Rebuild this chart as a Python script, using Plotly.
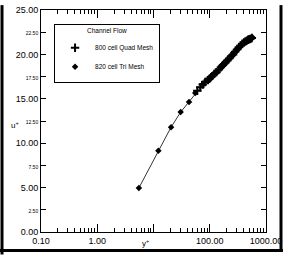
import plotly.graph_objects as go

# Data
quad_yplus = [60, 68, 75, 83, 92, 100, 110, 120, 132, 145, 158, 172, 188, 205, 222,
              240, 260, 282, 305, 330, 355, 380, 405, 430, 455, 480, 505, 530, 560]
quad_uplus = [15.9, 16.3, 16.6, 16.9, 17.1, 17.3, 17.55, 17.8, 18.0, 18.3, 18.55, 18.8,
              19.05, 19.3, 19.55, 19.8, 20.0, 20.3, 20.55, 20.8, 21.0, 21.2, 21.35, 21.45,
              21.55, 21.65, 21.7, 21.75, 21.85]
tri_yplus = [5.5, 12.2, 20.5, 30.4, 42.8, 55.3, 77, 94, 105, 133, 163, 205, 262, 345, 454, 580]
tri_uplus = [4.96, 9.14, 11.8, 13.5, 14.65, 15.64, 16.66, 17.0, 17.48, 18.0, 18.65, 19.24,
             19.97, 20.85, 21.44, 21.9]

x_tickvals = [0.1, 1, 10, 100, 1000]
x_ticktext = ["0.10", "1.00", "", "100.00", "1000.00"]
y_tickvals = [0, 2.5, 5, 7.5, 10, 12.5, 15, 17.5, 20, 22.5, 25]
y_ticktext = ["0.00", "2.50", "5.00", "7.50", "10.00", "12.50", "15.00", "17.50",
              "20.00", "22.50", "25.00"]

FONT = "Liberation Sans, Arial, sans-serif"

def ylabel(v, t):
    return t if v % 5 == 0 else '<span style="font-size:5px">%s</span>' % t

fig = go.Figure()
# connecting line (no legend entry)
fig.add_trace(go.Scatter(
    x=tri_yplus, y=tri_uplus, mode="lines", showlegend=False, hoverinfo="skip",
    line=dict(color="black", width=0.8),
))
fig.add_trace(go.Scatter(
    x=quad_yplus, y=quad_uplus, mode="markers", name="800 cell Quad Mesh",
    marker=dict(symbol="cross-thin", size=6, color="black",
                line=dict(color="black", width=2)),
))
fig.add_trace(go.Scatter(
    x=tri_yplus, y=tri_uplus, mode="markers", name="820 cell Tri Mesh",
    marker=dict(symbol="diamond", size=5, color="black"),
))

minor_x = [m * 10 ** e for e in range(-1, 3) for m in range(2, 10)]

fig.update_layout(
    width=287, height=255,
    margin=dict(l=41, r=21, t=5, b=23),
    paper_bgcolor="white", plot_bgcolor="white",
    font=dict(family=FONT, color="black", size=9),
    showlegend=True,
    legend=dict(
        x=0.058, y=0.938, xanchor="left", yanchor="top",
        bgcolor="white", bordercolor="black", borderwidth=1,
        font=dict(size=6.5, family=FONT),
        title=dict(text="Channel Flow", side="top center", font=dict(size=6.5)),
        itemwidth=30,
    ),
    xaxis=dict(
        type="log", range=[-1, 3],
        tickvals=x_tickvals, ticktext=x_ticktext,
        ticks="inside", ticklen=8, tickwidth=1, tickcolor="black",
        minor=dict(tickvals=minor_x, ticks="inside", ticklen=4, tickcolor="black"),
        showline=True, linecolor="black", linewidth=1, mirror="allticks",
        showgrid=False, zeroline=False,
        tickfont=dict(size=9),
    ),
    yaxis=dict(
        range=[0, 25],
        tickvals=y_tickvals, ticktext=[ylabel(v, t) for v, t in zip(y_tickvals, y_ticktext)],
        ticks="inside", ticklen=5, tickwidth=1, tickcolor="black",
        showline=True, linecolor="black", linewidth=1, mirror="allticks",
        showgrid=False, zeroline=False,
        tickfont=dict(size=9),
    ),
    annotations=[
        dict(text="u<sup>+</sup>", x=-0.14, y=0.48, xref="paper", yref="paper",
             showarrow=False, font=dict(size=8)),
        dict(text="y<sup>+</sup>", x=0.465, y=-11/227, xref="paper", yref="paper",
             yanchor="middle", showarrow=False, font=dict(size=8)),
    ],
    shapes=[
        dict(type="line", xref="paper", yref="paper", x0=-41/225 + 2/225, x1=-41/225 + 2/225,
             y0=-23/227, y1=1 + 5/227, line=dict(color="black", width=3)),
        dict(type="line", xref="paper", yref="paper", x0=-41/225, x1=1 + 17/225,
             y0=-19/227, y1=-19/227, line=dict(color="black", width=3)),
        dict(type="line", xref="paper", yref="paper", x0=1 + 15/225, x1=1 + 15/225,
             y0=-19/227, y1=1 + 5/227, line=dict(color="black", width=3)),
    ],
)

fig.write_html("out.html")
